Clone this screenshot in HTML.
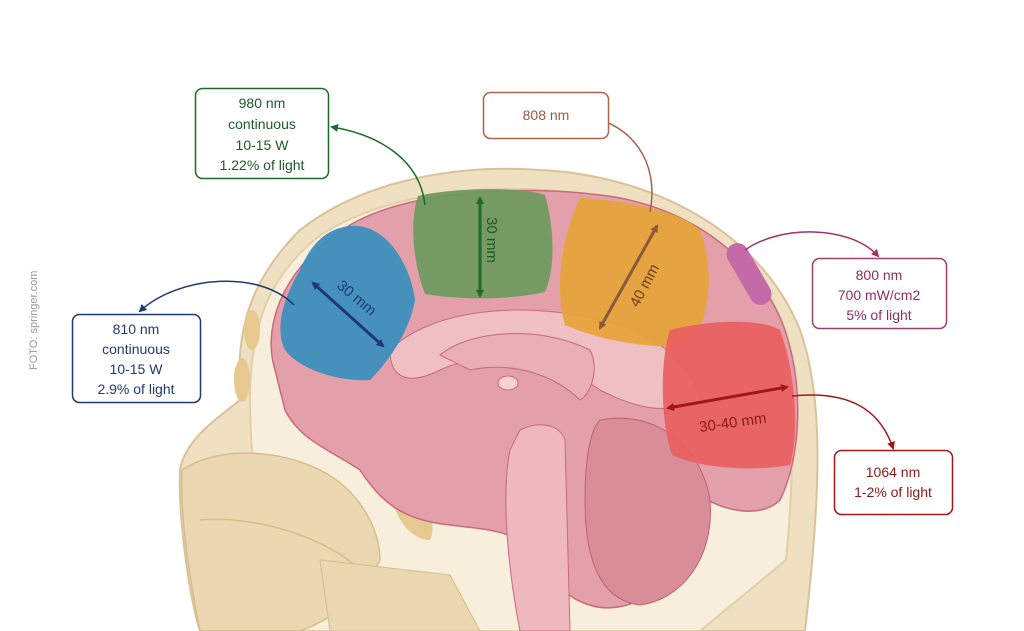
<!DOCTYPE html>
<html><head><meta charset="utf-8"><style>
html,body{margin:0;padding:0;background:#fff;width:1024px;height:631px;overflow:hidden}
svg{display:block}
text{font-family:"Liberation Sans",sans-serif}
</style></head><body>
<svg width="1024" height="631" viewBox="0 0 1024 631" xmlns="http://www.w3.org/2000/svg">
<defs>
<marker id="ah" markerWidth="8" markerHeight="8" refX="6" refY="4" orient="auto-start-reverse" markerUnits="userSpaceOnUse"><path d="M0,0 L8,4 L0,8 z" fill="context-stroke"/></marker>
</defs>
<!-- skull -->
<path d="M180,470 C185,440 215,420 240,400 C235,330 250,280 300,230 C370,175 470,165 540,170 C650,175 760,230 800,330 C825,400 820,500 805,631 L200,631 C190,600 178,520 180,470 Z" fill="#efe0c2" stroke="#d9c29a" stroke-width="2"/>
<path d="M250,400 C250,320 272,272 322,234 C390,192 480,186 545,190 C650,197 738,244 776,322 C795,380 795,470 786,560 L700,631 L300,631 C262,560 250,470 250,400Z" fill="#f7eedc" stroke="#e2cfa8" stroke-width="2"/>
<!-- face bones -->
<path d="M182,470 C220,445 280,450 320,470 C360,490 380,530 380,560 C360,600 330,620 300,631 L200,631 C190,580 180,520 182,470Z" fill="#ecd8b0" stroke="#d6bd8f" stroke-width="1.5"/>
<path d="M200,520 C260,515 330,540 360,570" fill="none" stroke="#d6bd8f" stroke-width="1.5"/>
<path d="M320,560 L450,575 L480,631 L330,631Z" fill="#ecd8b0" stroke="#d6bd8f"/>
<path d="M390,480 C420,490 440,520 430,540 C410,540 390,515 390,480Z" fill="#e6c890"/>
<ellipse cx="252" cy="330" rx="8" ry="20" fill="#e6c890"/>
<ellipse cx="242" cy="380" rx="8" ry="22" fill="#e6c890"/>
<!-- brain -->
<path d="M275,370 C260,320 290,260 350,225 C410,190 520,185 600,195 C690,205 760,260 785,330 C805,390 800,460 780,500 C760,520 720,510 700,495 C680,520 660,560 640,600 C600,620 560,600 540,560 C520,530 490,530 450,525 C400,520 380,500 360,470 C330,450 300,440 285,410 Z" fill="#e4a0aa" stroke="#c86a7a" stroke-width="1.5"/>
<path d="M390,350 C430,310 520,300 600,320 C650,330 690,360 700,400 C660,420 620,400 600,390 C560,360 480,350 440,370 C410,385 390,380 390,350Z" fill="#f0bfc4" stroke="#c86a7a"/>
<path d="M440,355 C470,330 540,325 590,350 C600,370 590,395 580,400 C560,380 520,360 470,370Z" fill="#e9aeb6" stroke="#c86a7a"/>
<ellipse cx="508" cy="383" rx="10" ry="7" fill="#f4d0d3" stroke="#c86a7a"/>
<path d="M520,430 C540,420 560,425 565,440 L570,631 L520,631 C510,580 500,500 510,450Z" fill="#eeb8be" stroke="#c86a7a"/>
<path d="M600,420 C650,410 700,440 710,500 C715,560 680,600 640,605 C600,600 585,560 585,500 C585,460 590,430 600,420Z" fill="#d98d99" stroke="#c06070"/>
<!-- patches -->
<path d="M340,228 C380,215 410,260 415,300 C410,330 390,360 370,380 C340,382 300,370 285,350 C275,330 282,300 300,270 C310,245 325,232 340,228Z" fill="#3d8fbd" opacity="0.95"/>
<path d="M418,196 C450,188 520,186 545,195 C555,230 555,270 545,292 C510,300 460,300 425,294 C412,260 410,220 418,196Z" fill="#6f9a60" opacity="0.95"/>
<path d="M580,198 C620,200 680,210 700,230 C715,270 710,320 690,345 C650,350 600,340 565,325 C555,290 560,240 580,198Z" fill="#e6a33c" opacity="0.95"/>
<path d="M670,330 C710,320 760,318 780,330 C795,370 800,430 790,465 C750,472 700,468 672,455 C660,420 660,360 670,330Z" fill="#e96060" opacity="0.92"/>
<rect x="738" y="240" width="22" height="68" rx="11" fill="#c46aa8" transform="rotate(-30 749 274)"/>
<!-- dimension arrows -->
<line x1="313" y1="283" x2="383" y2="346" stroke="#1f3a73" stroke-width="3" marker-start="url(#ah)" marker-end="url(#ah)"/>
<text x="0" y="0" fill="#1f3a73" font-size="15" transform="translate(336,287) rotate(40)">30 mm</text>
<line x1="480" y1="198" x2="480" y2="296" stroke="#1d6a2a" stroke-width="3" marker-start="url(#ah)" marker-end="url(#ah)"/>
<text fill="#1d5a25" font-size="15" transform="translate(487,217) rotate(90)">30 mm</text>
<line x1="657" y1="226" x2="600" y2="328" stroke="#8a5a3a" stroke-width="3" marker-start="url(#ah)" marker-end="url(#ah)"/>
<text fill="#6a4020" font-size="15" transform="translate(638,308) rotate(-62)">40 mm</text>
<line x1="668" y1="408" x2="787" y2="387" stroke="#a01818" stroke-width="3" marker-start="url(#ah)" marker-end="url(#ah)"/>
<text fill="#8a1a1a" font-size="15" transform="translate(700,432) rotate(-8)">30-40 mm</text>
<!-- connectors -->
<path d="M425,205 C420,160 380,135 332,127" fill="none" stroke="#1d6a2a" stroke-width="1.5" marker-end="url(#ah)"/>
<path d="M650,212 C660,160 630,125 590,117" fill="none" stroke="#a6604a" stroke-width="1.5" marker-end="url(#ah)"/>
<path d="M745,250 C780,225 850,225 878,256" fill="none" stroke="#a0306a" stroke-width="1.5" marker-end="url(#ah)"/>
<path d="M294,305 C260,270 180,275 140,311" fill="none" stroke="#1f3a73" stroke-width="1.5" marker-end="url(#ah)"/>
<path d="M792,396 C850,390 880,410 893,448" fill="none" stroke="#a01818" stroke-width="1.5" marker-end="url(#ah)"/>
<!-- boxes -->
<g font-size="14" text-anchor="middle">
<rect x="195.5" y="88.5" width="133" height="90" rx="7" fill="#fff" stroke="#1d6a2a" stroke-width="1.5"/>
<text fill="#1d5a25"><tspan x="262" y="108">980 nm</tspan><tspan x="262" y="129">continuous</tspan><tspan x="262" y="150">10-15 W</tspan><tspan x="262" y="170">1.22% of light</tspan></text>
<rect x="483.5" y="92.5" width="125" height="46" rx="7" fill="#fff" stroke="#b0624a" stroke-width="1.5"/>
<text x="546" y="120" fill="#a0563e">808 nm</text>
<rect x="812.5" y="258.5" width="134" height="70" rx="7" fill="#fff" stroke="#a0406a" stroke-width="1.5"/>
<text fill="#8e2e5e"><tspan x="879" y="280">800 nm</tspan><tspan x="879" y="300">700 mW/cm2</tspan><tspan x="879" y="320">5% of light</tspan></text>
<rect x="72.5" y="314.5" width="128" height="88" rx="7" fill="#fff" stroke="#1f3a73" stroke-width="1.5"/>
<text fill="#1f3a73"><tspan x="136" y="334">810 nm</tspan><tspan x="136" y="354">continuous</tspan><tspan x="136" y="374">10-15 W</tspan><tspan x="136" y="394">2.9% of light</tspan></text>
<rect x="834.5" y="450.5" width="118" height="64" rx="7" fill="#fff" stroke="#a01818" stroke-width="1.5"/>
<text fill="#8a1a1a"><tspan x="893" y="477">1064 nm</tspan><tspan x="893" y="497">1-2% of light</tspan></text>
</g>
<text fill="#999" font-size="11" transform="translate(37,370) rotate(-90)">FOTO: springer.com</text>
</svg>
</body></html>
